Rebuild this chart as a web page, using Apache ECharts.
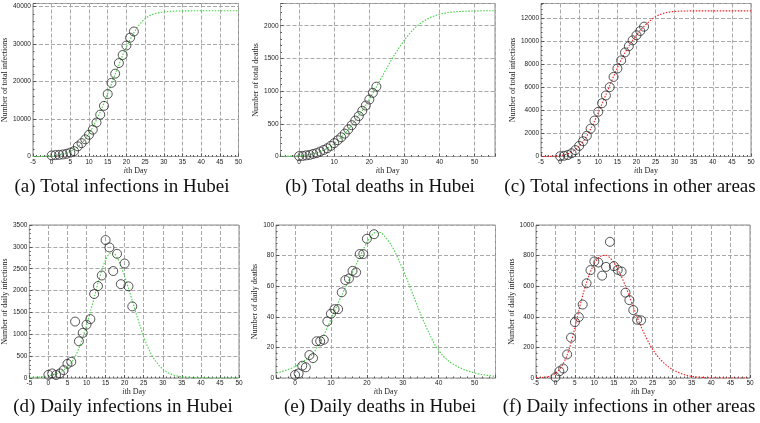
<!DOCTYPE html>
<html><head><meta charset="utf-8">
<script src="https://cdn.jsdelivr.net/npm/echarts@6/dist/echarts.min.js"></script>
<style>html,body{margin:0;padding:0;background:#fff}#c{width:760px;height:423px}</style>
</head><body><div id="c"></div>
<script>
// observed days
const days = [0,1,2,3,4,5,6,7,8,9,10,11,12,13,14,15,16,17,18,19,20,21,22];
// (a) total infections Hubei
const hubeiTotal = [270,375,444,549,729,1052,1423,2714,3554,4586,5806,7153,9074,11177,13522,16678,19665,22112,24953,27100,29631,31728,33366];
// (b) total deaths Hubei
const hubeiDeathsTotal = [6,9,17,24,39,52,76,100,125,162,204,249,294,350,414,479,549,618,699,780,871,974,1068];
// (c) total infections other areas
const otherTotal = [21,65,127,281,558,923,1321,1801,2420,3125,3886,4638,5306,6028,6916,7646,8353,9049,9593,10098,10540,10910,11287];
// (d) daily infections Hubei
const hubeiDaily = [72,105,69,105,180,323,371,1291,840,1032,1220,1347,1921,2103,2345,3156,2987,2447,2841,2147,2618,2097,1638];
// (e) daily deaths Hubei
const hubeiDeathsDaily = [2,3,8,7,15,13,24,24,25,37,42,45,45,56,64,65,70,69,81,81,91,103,94];
// (f) daily infections other areas
const otherDaily = [5,44,62,154,264,365,398,480,619,705,762,755,669,726,890,731,707,696,558,509,444,381,377];

// model curve days
const fitDays = [-5,-4,-3,-2,-1,0,1,2,3,4,5,6,7,8,9,10,11,12,13,14,15,16,17,18,19,20,21,22,23,24,25,26,27,28,29,30,31,32,33,34,35,36,37,38,39,40,41,42,43,44,45,46,47,48,49,50];
const fitDaysLong = [-6,-5,-4,-3,-2,-1,0,1,2,3,4,5,6,7,8,9,10,11,12,13,14,15,16,17,18,19,20,21,22,23,24,25,26,27,28,29,30,31,32,33,34,35,36,37,38,39,40,41,42,43,44,45,46,47,48,49,50,51,52,53,54,55,56];

const fitA = [0,10,20,40,80,150,260,420,640,950,1350,1900,2600,3500,4700,6150,7850,9800,11950,14300,16800,19400,22000,24500,27000,29250,31250,33050,34600,35800,36800,37500,37950,38250,38450,38600,38700,38770,38820,38850,38870,38880,38890,38900,38900,38900,38900,38900,38900,38900,38900,38900,38900,38900,38900,38900];
const fitB = [2,3,4,5,6,8,11,15,21,29,40,54,73,97,126,160,200,244,294,350,412,480,553,628,703,785,875,968,1063,1160,1258,1355,1450,1540,1625,1705,1780,1850,1912,1966,2013,2053,2087,2115,2139,2159,2175,2188,2198,2205,2211,2215,2218,2221,2223,2225,2226,2227,2228,2229,2229,2230,2230];
const fitC = [0,5,10,20,40,80,140,240,390,600,900,1290,1790,2380,3060,3800,4580,5380,6180,6960,7700,8390,9020,9590,10100,10560,10960,11320,11640,11920,12150,12320,12440,12520,12570,12610,12630,12645,12652,12656,12660,12660,12660,12660,12660,12660,12660,12660,12660,12660,12660,12660,12660,12660,12660,12660];
const fitD = [7,11,17,25,35,50,70,95,130,185,255,355,490,680,920,1200,1510,1840,2170,2470,2700,2840,2860,2760,2570,2320,2050,1770,1480,1200,940,720,540,400,290,205,140,95,64,42,28,18,12,8,5,3,2,1,0,0,0,0,0,0,0,0];
const fitE = [2.9,3.4,4,4.7,5.5,6.4,7.5,8.8,10.2,12,13.8,16,19.5,23.5,28,33,38.5,43.8,49,54,59,64,69,74,79,84,88.5,92,94.8,95.5,94.8,92.5,89.5,86,81.5,76.5,71,65.5,59.5,53.5,47.5,41.5,36,31,26,21.5,18,15,12.6,10.6,9.1,7.8,6.6,5.6,4.7,4,3.3,2.8,2.3,1.9,1.6,1.3,1.1];
const fitF = [1,2,4,8,16,30,55,95,150,230,330,440,540,625,695,748,782,800,802,785,755,712,660,600,535,465,398,336,280,230,187,150,120,95,74,57,43,32,23,16,11,7,5,3,2,1,0,0,0,0,0,0,0,0,0,0];

// tick / label settings
const xTicksStd = {min: -5, max: 50, interval: 5};
const xTicksWide = {min: -5.3, max: 55.8};
const yScales = [
  {max: 40850, interval: 10000, hideMax: true},
  {max: 2340, interval: 500, hideMax: true},
  {max: 13300, interval: 2000, hideMax: true},
  {max: 3500, interval: 500, hideMax: false},
  {max: 100, interval: 20, hideMax: false},
  {max: 1000, interval: 200, hideMax: false}
];
const yNames = ['Number of total infections','Number of total deaths','Number of total infections',
                'Number of daily infections','Number of daily deaths','Number of daily infections'];
const captions = ['(a) Total infections in Hubei','(b) Total deaths in Hubei','(c) Total infections in other areas',
                  '(d) Daily infections in Hubei','(e) Daily deaths in Hubei','(f) Daily infections in other areas'];

const grids = [
  {left: 28.5, top: 3.5, width: 210, height: 153},
  {left: 280.5, top: 3.5, width: 214.5, height: 153},
  {left: 541, top: 3.5, width: 210, height: 153},
  {left: 25, top: 225, width: 214, height: 153},
  {left: 276, top: 225, width: 219.5, height: 153},
  {left: 536, top: 225, width: 214, height: 153}
];
const yNameGaps = [23.5, 20.5, 24, 19.5, 15.5, 19];
const captionPos = [[122,187],[380,187],[630,187],[123,407],[380,407],[629,407]];

const GREEN = '#3fd23f', RED = '#ff1a1a';
const panels = [
  {obs: hubeiTotal, fitX: fitDays, fit: fitA, color: GREEN, wide: false},
  {obs: hubeiDeathsTotal, fitX: fitDaysLong, fit: fitB, color: GREEN, wide: true},
  {obs: otherTotal, fitX: fitDays, fit: fitC, color: RED, wide: false},
  {obs: hubeiDaily, fitX: fitDays, fit: fitD, color: GREEN, wide: false},
  {obs: hubeiDeathsDaily, fitX: fitDaysLong, fit: fitE, color: GREEN, wide: true},
  {obs: otherDaily, fitX: fitDays, fit: fitF, color: RED, wide: false}
];

const gridLine = {show: true, lineStyle: {color: '#a8a8a8', type: [4, 2], width: 1}};
const tickStyle = {color: '#555', width: 1};
const plain = v => String(v);
const labelFont = {fontSize: 6.5, fontFamily: 'Liberation Sans', color: '#222', formatter: plain};
const nameFont = {fontSize: 8, fontFamily: 'Liberation Serif', color: '#222'};

const option = {
  animation: false,
  backgroundColor: '#fff',
  grid: grids.map(g => Object.assign({show: true, borderColor: '#8a8a8a', borderWidth: 1, containLabel: false}, g)),
  xAxis: panels.map((p, i) => Object.assign({
    gridIndex: i, type: 'value',
    axisLine: {show: false, onZero: false},
    axisTick: {inside: true, length: 3, lineStyle: tickStyle},
    minorTick: {show: true, splitNumber: 5, length: 1.5, lineStyle: tickStyle},
    splitLine: gridLine,
    axisLabel: Object.assign({margin: 2, showMinLabel: !p.wide, showMaxLabel: !p.wide}, labelFont),
    name: '{i|i}th Day', nameLocation: 'middle', nameGap: 10,
    nameTextStyle: Object.assign({rich: {i: Object.assign({fontStyle: 'italic'}, nameFont)}}, nameFont)
  }, p.wide ? Object.assign({splitNumber: 6}, xTicksWide) : xTicksStd)),
  yAxis: panels.map((p, i) => ({
    gridIndex: i, type: 'value', min: 0, max: yScales[i].max, interval: yScales[i].interval,
    axisLine: {show: false, onZero: false},
    axisTick: {inside: true, length: 3, lineStyle: tickStyle},
    minorTick: {show: true, splitNumber: 5, length: 1.5, lineStyle: tickStyle},
    splitLine: gridLine,
    axisLabel: Object.assign({margin: 2, showMaxLabel: !yScales[i].hideMax}, labelFont),
    name: yNames[i], nameLocation: 'middle', nameGap: yNameGaps[i], nameTextStyle: nameFont
  })),
  series: [].concat(
    panels.map((p, i) => ({
      type: 'line', xAxisIndex: i, yAxisIndex: i, showSymbol: false, smooth: 0.3,
      data: p.fitX.map((d, k) => [d, p.fit[k]]),
      lineStyle: {color: p.color, width: 1.1, type: [1.5, 1.5]}, z: 2
    })),
    panels.map((p, i) => ({
      type: 'scatter', xAxisIndex: i, yAxisIndex: i, symbol: 'circle', symbolSize: 9,
      data: days.map((d, k) => [d, p.obs[k]]),
      itemStyle: {color: 'rgba(0,0,0,0)', borderColor: '#2a2a2a', borderWidth: 1}, z: 3
    }))
  ),
  graphic: captions.map((t, i) => ({
    type: 'text', x: captionPos[i][0], y: captionPos[i][1],
    style: {text: t, font: '19px "Liberation Serif"', fill: '#111', textAlign: 'center', textVerticalAlign: 'middle'}
  }))
};
const chart = echarts.init(document.getElementById('c'), null, {renderer: 'canvas'});
chart.setOption(option);
</script></body></html>
